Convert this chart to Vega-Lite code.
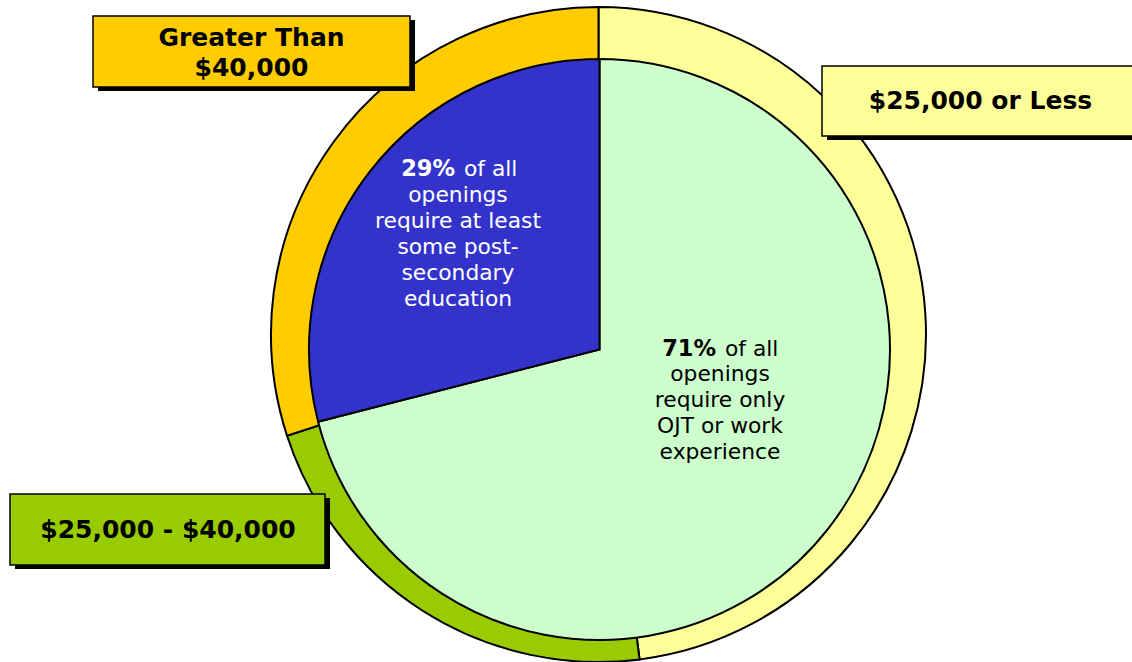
{
  "$schema": "https://vega.github.io/schema/vega-lite/v6.json",
  "width": 1132,
  "height": 662,
  "padding": 0,
  "autosize": {"type": "none"},
  "background": "white",
  "config": {"view": {"stroke": null}, "font": "DejaVu Sans"},
  "datasets": {
    "income": [
      {"band": "$25,000 or Less", "label": "$25,000 or Less", "share": 48, "idx": 1},
      {"band": "$25,000 - $40,000", "label": "$25,000 - $40,000", "share": 22, "idx": 2},
      {"band": "Greater Than $40,000", "label": "Greater Than\n$40,000", "share": 30, "idx": 3}
    ],
    "openings": [
      {"req": "OJT or work experience", "pct": "71%", "lead": "of all", "rest": "openings\nrequire only\nOJT or work\nexperience", "share": 71, "idx": 1},
      {"req": "Post-secondary education", "pct": "29%", "lead": "of all", "rest": "openings\nrequire at least\nsome post-\nsecondary\neducation", "share": 29, "idx": 2}
    ]
  },
  "layer": [
    {
      "data": {"name": "income"},
      "mark": {"type": "arc", "radius": 327.5, "stroke": "black", "strokeWidth": 2},
      "encoding": {
        "theta": {"field": "share", "type": "quantitative", "stack": true},
        "order": {"field": "idx", "type": "quantitative"},
        "color": {"field": "band", "type": "nominal", "scale": {"domain": ["$25,000 or Less", "$25,000 - $40,000", "Greater Than $40,000", "OJT or work experience", "Post-secondary education"], "range": ["#FFFF99", "#99CC00", "#FFCC00", "#CCFFCC", "#3333CC"]}, "legend": null},
        "x": {"datum": 52.871, "type": "quantitative", "scale": {"domain": [0, 100], "nice": false, "zero": false}, "axis": null},
        "y": {"datum": 50.529, "type": "quantitative", "scale": {"domain": [100, 0], "nice": false, "zero": false}, "axis": null}
      }
    },
    {
      "data": {"name": "openings"},
      "mark": {"type": "arc", "radius": 290.5, "stroke": "black", "strokeWidth": 2},
      "encoding": {
        "theta": {"field": "share", "type": "quantitative", "stack": true},
        "order": {"field": "idx", "type": "quantitative"},
        "color": {"field": "req", "type": "nominal", "scale": {"domain": ["$25,000 or Less", "$25,000 - $40,000", "Greater Than $40,000", "OJT or work experience", "Post-secondary education"], "range": ["#FFFF99", "#99CC00", "#FFCC00", "#CCFFCC", "#3333CC"]}, "legend": null},
        "x": {"datum": 52.959, "type": "quantitative", "scale": {"domain": [0, 100], "nice": false, "zero": false}, "axis": null},
        "y": {"datum": 52.795, "type": "quantitative", "scale": {"domain": [100, 0], "nice": false, "zero": false}, "axis": null}
      }
    },
    {
      "data": {"name": "openings"},
      "mark": {"type": "text", "radius": 136, "thetaOffset": -0.178, "fontSize": 21.8, "lineHeight": 26, "lineBreak": "\n", "dy": -39, "color": "black"},
      "encoding": {
        "theta": {"field": "share", "type": "quantitative", "stack": true},
        "order": {"field": "idx", "type": "quantitative"},
        "x": {"datum": 52.959, "type": "quantitative", "scale": {"domain": [0, 100], "nice": false, "zero": false}, "axis": null},
        "y": {"datum": 52.795, "type": "quantitative", "scale": {"domain": [100, 0], "nice": false, "zero": false}, "axis": null},
        "text": {"condition": {"test": "datum.idx == 1", "field": "rest", "type": "nominal"}, "value": ""}
      }
    },
    {
      "data": {"name": "openings"},
      "mark": {"type": "text", "radius": 136, "thetaOffset": -0.178, "fontSize": 22.5, "fontWeight": "bold", "align": "right", "dx": -4, "dy": -64, "color": "black"},
      "encoding": {
        "theta": {"field": "share", "type": "quantitative", "stack": true},
        "order": {"field": "idx", "type": "quantitative"},
        "x": {"datum": 52.959, "type": "quantitative", "scale": {"domain": [0, 100], "nice": false, "zero": false}, "axis": null},
        "y": {"datum": 52.795, "type": "quantitative", "scale": {"domain": [100, 0], "nice": false, "zero": false}, "axis": null},
        "text": {"condition": {"test": "datum.idx == 1", "field": "pct", "type": "nominal"}, "value": ""}
      }
    },
    {
      "data": {"name": "openings"},
      "mark": {"type": "text", "radius": 136, "thetaOffset": -0.178, "fontSize": 21.8, "align": "left", "dx": 5, "dy": -64, "color": "black"},
      "encoding": {
        "theta": {"field": "share", "type": "quantitative", "stack": true},
        "order": {"field": "idx", "type": "quantitative"},
        "x": {"datum": 52.959, "type": "quantitative", "scale": {"domain": [0, 100], "nice": false, "zero": false}, "axis": null},
        "y": {"datum": 52.795, "type": "quantitative", "scale": {"domain": [100, 0], "nice": false, "zero": false}, "axis": null},
        "text": {"condition": {"test": "datum.idx == 1", "field": "lead", "type": "nominal"}, "value": ""}
      }
    },
    {
      "data": {"name": "openings"},
      "mark": {"type": "text", "radius": 174.7, "thetaOffset": -0.033, "fontSize": 21.8, "lineHeight": 26, "lineBreak": "\n", "dy": -52, "color": "white"},
      "encoding": {
        "theta": {"field": "share", "type": "quantitative", "stack": true},
        "order": {"field": "idx", "type": "quantitative"},
        "x": {"datum": 52.959, "type": "quantitative", "scale": {"domain": [0, 100], "nice": false, "zero": false}, "axis": null},
        "y": {"datum": 52.795, "type": "quantitative", "scale": {"domain": [100, 0], "nice": false, "zero": false}, "axis": null},
        "text": {"condition": {"test": "datum.idx == 2", "field": "rest", "type": "nominal"}, "value": ""}
      }
    },
    {
      "data": {"name": "openings"},
      "mark": {"type": "text", "radius": 174.7, "thetaOffset": -0.033, "fontSize": 22.5, "fontWeight": "bold", "align": "right", "dx": -3, "dy": -78, "color": "white"},
      "encoding": {
        "theta": {"field": "share", "type": "quantitative", "stack": true},
        "order": {"field": "idx", "type": "quantitative"},
        "x": {"datum": 52.959, "type": "quantitative", "scale": {"domain": [0, 100], "nice": false, "zero": false}, "axis": null},
        "y": {"datum": 52.795, "type": "quantitative", "scale": {"domain": [100, 0], "nice": false, "zero": false}, "axis": null},
        "text": {"condition": {"test": "datum.idx == 2", "field": "pct", "type": "nominal"}, "value": ""}
      }
    },
    {
      "data": {"name": "openings"},
      "mark": {"type": "text", "radius": 174.7, "thetaOffset": -0.033, "fontSize": 21.8, "align": "left", "dx": 6, "dy": -78, "color": "white"},
      "encoding": {
        "theta": {"field": "share", "type": "quantitative", "stack": true},
        "order": {"field": "idx", "type": "quantitative"},
        "x": {"datum": 52.959, "type": "quantitative", "scale": {"domain": [0, 100], "nice": false, "zero": false}, "axis": null},
        "y": {"datum": 52.795, "type": "quantitative", "scale": {"domain": [100, 0], "nice": false, "zero": false}, "axis": null},
        "text": {"condition": {"test": "datum.idx == 2", "field": "lead", "type": "nominal"}, "value": ""}
      }
    },
    {
      "data": {"name": "income"},
      "transform": [{"filter": "datum.idx == 3"}],
      "mark": {"type": "rect", "color": "black", "xOffset": 5, "x2Offset": 5, "yOffset": 4, "y2Offset": 4},
      "encoding": {
        "x": {"datum": 8.216, "type": "quantitative", "scale": {"domain": [0, 100], "nice": false, "zero": false}, "axis": null},
        "x2": {"datum": 36.219},
        "y": {"datum": 2.417, "type": "quantitative", "scale": {"domain": [100, 0], "nice": false, "zero": false}, "axis": null},
        "y2": {"datum": 13.142}
      }
    },
    {
      "data": {"name": "income"},
      "transform": [{"filter": "datum.idx == 3"}],
      "mark": {"type": "rect", "stroke": "black", "strokeWidth": 1.5},
      "encoding": {
        "x": {"datum": 8.216, "type": "quantitative", "scale": {"domain": [0, 100], "nice": false, "zero": false}, "axis": null},
        "x2": {"datum": 36.219},
        "y": {"datum": 2.417, "type": "quantitative", "scale": {"domain": [100, 0], "nice": false, "zero": false}, "axis": null},
        "y2": {"datum": 13.142},
        "color": {"field": "band", "type": "nominal", "scale": {"domain": ["$25,000 or Less", "$25,000 - $40,000", "Greater Than $40,000", "OJT or work experience", "Post-secondary education"], "range": ["#FFFF99", "#99CC00", "#FFCC00", "#CCFFCC", "#3333CC"]}, "legend": null}
      }
    },
    {
      "data": {"name": "income"},
      "transform": [{"filter": "datum.idx == 3"}],
      "mark": {"type": "text", "fontSize": 25, "fontWeight": "bold", "lineHeight": 30, "lineBreak": "\n", "dy": -15, "color": "black"},
      "encoding": {
        "x": {"datum": 22.217, "type": "quantitative", "scale": {"domain": [0, 100], "nice": false, "zero": false}, "axis": null},
        "y": {"datum": 8.006, "type": "quantitative", "scale": {"domain": [100, 0], "nice": false, "zero": false}, "axis": null},
        "text": {"field": "label", "type": "nominal"}
      }
    },
    {
      "data": {"name": "income"},
      "transform": [{"filter": "datum.idx == 1"}],
      "mark": {"type": "rect", "color": "black", "xOffset": 5, "x2Offset": 5, "yOffset": 4, "y2Offset": 4},
      "encoding": {
        "x": {"datum": 72.615, "type": "quantitative", "scale": {"domain": [0, 100], "nice": false, "zero": false}, "axis": null},
        "x2": {"datum": 101},
        "y": {"datum": 9.970, "type": "quantitative", "scale": {"domain": [100, 0], "nice": false, "zero": false}, "axis": null},
        "y2": {"datum": 20.544}
      }
    },
    {
      "data": {"name": "income"},
      "transform": [{"filter": "datum.idx == 1"}],
      "mark": {"type": "rect", "stroke": "black", "strokeWidth": 1.5},
      "encoding": {
        "x": {"datum": 72.615, "type": "quantitative", "scale": {"domain": [0, 100], "nice": false, "zero": false}, "axis": null},
        "x2": {"datum": 101},
        "y": {"datum": 9.970, "type": "quantitative", "scale": {"domain": [100, 0], "nice": false, "zero": false}, "axis": null},
        "y2": {"datum": 20.544},
        "color": {"field": "band", "type": "nominal", "scale": {"domain": ["$25,000 or Less", "$25,000 - $40,000", "Greater Than $40,000", "OJT or work experience", "Post-secondary education"], "range": ["#FFFF99", "#99CC00", "#FFCC00", "#CCFFCC", "#3333CC"]}, "legend": null}
      }
    },
    {
      "data": {"name": "income"},
      "transform": [{"filter": "datum.idx == 1"}],
      "mark": {"type": "text", "fontSize": 25, "fontWeight": "bold", "color": "black"},
      "encoding": {
        "x": {"datum": 86.617, "type": "quantitative", "scale": {"domain": [0, 100], "nice": false, "zero": false}, "axis": null},
        "y": {"datum": 15.257, "type": "quantitative", "scale": {"domain": [100, 0], "nice": false, "zero": false}, "axis": null},
        "text": {"field": "label", "type": "nominal"}
      }
    },
    {
      "data": {"name": "income"},
      "transform": [{"filter": "datum.idx == 2"}],
      "mark": {"type": "rect", "color": "black", "xOffset": 5, "x2Offset": 5, "yOffset": 4, "y2Offset": 4},
      "encoding": {
        "x": {"datum": 0.883, "type": "quantitative", "scale": {"domain": [0, 100], "nice": false, "zero": false}, "axis": null},
        "x2": {"datum": 28.710},
        "y": {"datum": 74.622, "type": "quantitative", "scale": {"domain": [100, 0], "nice": false, "zero": false}, "axis": null},
        "y2": {"datum": 85.347}
      }
    },
    {
      "data": {"name": "income"},
      "transform": [{"filter": "datum.idx == 2"}],
      "mark": {"type": "rect", "stroke": "black", "strokeWidth": 1.5},
      "encoding": {
        "x": {"datum": 0.883, "type": "quantitative", "scale": {"domain": [0, 100], "nice": false, "zero": false}, "axis": null},
        "x2": {"datum": 28.710},
        "y": {"datum": 74.622, "type": "quantitative", "scale": {"domain": [100, 0], "nice": false, "zero": false}, "axis": null},
        "y2": {"datum": 85.347},
        "color": {"field": "band", "type": "nominal", "scale": {"domain": ["$25,000 or Less", "$25,000 - $40,000", "Greater Than $40,000", "OJT or work experience", "Post-secondary education"], "range": ["#FFFF99", "#99CC00", "#FFCC00", "#CCFFCC", "#3333CC"]}, "legend": null}
      }
    },
    {
      "data": {"name": "income"},
      "transform": [{"filter": "datum.idx == 2"}],
      "mark": {"type": "text", "fontSize": 25, "fontWeight": "bold", "color": "black"},
      "encoding": {
        "x": {"datum": 14.841, "type": "quantitative", "scale": {"domain": [0, 100], "nice": false, "zero": false}, "axis": null},
        "y": {"datum": 80.060, "type": "quantitative", "scale": {"domain": [100, 0], "nice": false, "zero": false}, "axis": null},
        "text": {"field": "label", "type": "nominal"}
      }
    }
  ]
}
